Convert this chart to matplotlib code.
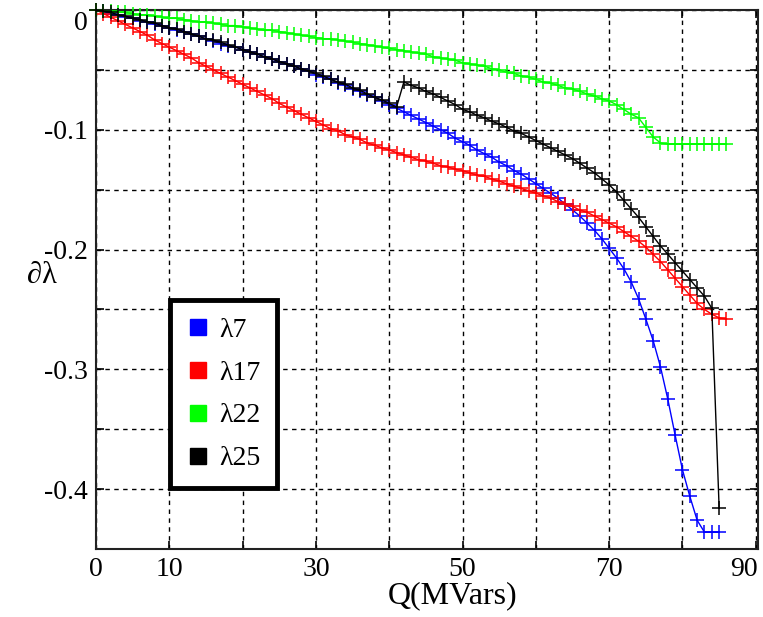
import matplotlib
matplotlib.use("Agg")
import matplotlib.pyplot as plt
from matplotlib.lines import Line2D
from matplotlib.transforms import ScaledTranslation

plt.rcParams['font.family'] = ['Liberation Serif', 'DejaVu Serif']

# Q (MVars) sample points
q_blue = [0, 1, 2, 3, 4, 5, 6, 7, 8, 9, 10, 11, 12, 13, 14, 15, 16, 17, 18, 19,
          20, 21, 22, 23, 24, 25, 26, 27, 28, 29, 30, 31, 32, 33, 34, 35, 36, 37, 38, 39,
          40, 41, 42, 43, 44, 45, 46, 47, 48, 49, 50, 51, 52, 53, 54, 55, 56, 57, 58, 59,
          60, 61, 62, 63, 64, 65, 66, 67, 68, 69, 70, 71, 72, 73, 74, 75, 76, 77, 78, 79,
          80, 81, 82, 83, 84, 85]
lam7 = [0, -0.001, -0.003, -0.004, -0.006, -0.007, -0.009, -0.010, -0.012, -0.013,
        -0.015, -0.017, -0.018, -0.020, -0.022, -0.024, -0.026, -0.028, -0.030, -0.031,
        -0.033, -0.035, -0.037, -0.039, -0.041, -0.043, -0.045, -0.047, -0.049, -0.051,
        -0.054, -0.056, -0.058, -0.061, -0.063, -0.066, -0.068, -0.071, -0.073, -0.076,
        -0.079, -0.082, -0.085, -0.088, -0.091, -0.094, -0.097, -0.100, -0.103, -0.107,
        -0.110, -0.113, -0.117, -0.120, -0.123, -0.127, -0.130, -0.134, -0.137, -0.141,
        -0.145, -0.149, -0.153, -0.157, -0.162, -0.167, -0.172, -0.178, -0.184, -0.191,
        -0.199, -0.207, -0.216, -0.227, -0.241, -0.258, -0.276, -0.298, -0.325, -0.355,
        -0.384, -0.406, -0.426, -0.436, -0.436, -0.436]

q_red = [0, 1, 2, 3, 4, 5, 6, 7, 8, 9, 10, 11, 12, 13, 14, 15, 16, 17, 18, 19,
         20, 21, 22, 23, 24, 25, 26, 27, 28, 29, 30, 31, 32, 33, 34, 35, 36, 37, 38, 39,
         40, 41, 42, 43, 44, 45, 46, 47, 48, 49, 50, 51, 52, 53, 54, 55, 56, 57, 58, 59,
         60, 61, 62, 63, 64, 65, 66, 67, 68, 69, 70, 71, 72, 73, 74, 75, 76, 77, 78, 79,
         80, 81, 82, 83, 84, 85, 86]
lam17 = [0, -0.003, -0.006, -0.009, -0.012, -0.015, -0.018, -0.021, -0.025, -0.028,
         -0.031, -0.034, -0.037, -0.040, -0.044, -0.047, -0.050, -0.053, -0.056, -0.059,
         -0.062, -0.065, -0.068, -0.071, -0.074, -0.078, -0.081, -0.084, -0.087, -0.090,
         -0.093, -0.096, -0.099, -0.101, -0.104, -0.106, -0.108, -0.111, -0.113, -0.115,
         -0.117, -0.119, -0.121, -0.123, -0.125, -0.126, -0.128, -0.130, -0.131, -0.133,
         -0.134, -0.136, -0.138, -0.139, -0.141, -0.143, -0.145, -0.147, -0.149, -0.151,
         -0.153, -0.155, -0.157, -0.160, -0.162, -0.164, -0.167, -0.169, -0.172, -0.175,
         -0.178, -0.181, -0.185, -0.189, -0.193, -0.198, -0.204, -0.210, -0.217, -0.224,
         -0.231, -0.238, -0.245, -0.250, -0.254, -0.257, -0.258]

q_green = [0, 1, 2, 3, 4, 5, 6, 7, 8, 9, 10, 11, 12, 13, 14, 15, 16, 17, 18, 19,
           20, 21, 22, 23, 24, 25, 26, 27, 28, 29, 30, 31, 32, 33, 34, 35, 36, 37, 38, 39,
           40, 41, 42, 43, 44, 45, 46, 47, 48, 49, 50, 51, 52, 53, 54, 55, 56, 57, 58, 59,
           60, 61, 62, 63, 64, 65, 66, 67, 68, 69, 70, 71, 72, 73, 74, 75, 76, 77, 78, 79,
           80, 81, 82, 83, 84, 85, 86]
lam22 = [0, -0.001, -0.001, -0.002, -0.002, -0.003, -0.004, -0.004, -0.005, -0.006,
         -0.007, -0.007, -0.008, -0.009, -0.010, -0.010, -0.011, -0.012, -0.013, -0.013,
         -0.014, -0.015, -0.016, -0.017, -0.017, -0.018, -0.019, -0.020, -0.021, -0.022,
         -0.023, -0.024, -0.024, -0.025, -0.026, -0.027, -0.028, -0.029, -0.030, -0.031,
         -0.032, -0.033, -0.034, -0.035, -0.036, -0.037, -0.039, -0.040, -0.041, -0.042,
         -0.044, -0.045, -0.046, -0.047, -0.049, -0.050, -0.052, -0.053, -0.055, -0.056,
         -0.058, -0.060, -0.061, -0.063, -0.065, -0.066, -0.068, -0.070, -0.072, -0.074,
         -0.076, -0.079, -0.083, -0.087, -0.090, -0.098, -0.106, -0.111, -0.112, -0.112,
         -0.112, -0.112, -0.112, -0.112, -0.112, -0.112, -0.112]

q_black = [0, 1, 2, 3, 4, 5, 6, 7, 8, 9, 10, 11, 12, 13, 14, 15, 16, 17, 18, 19,
           20, 21, 22, 23, 24, 25, 26, 27, 28, 29, 30, 31, 32, 33, 34, 35, 36, 37, 38, 39,
           40, 41, 42, 43, 44, 45, 46, 47, 48, 49, 50, 51, 52, 53, 54, 55, 56, 57, 58, 59,
           60, 61, 62, 63, 64, 65, 66, 67, 68, 69, 70, 71, 72, 73, 74, 75, 76, 77, 78, 79,
           80, 81, 82, 83, 84, 85]
lam25 = [0, -0.001, -0.002, -0.004, -0.005, -0.007, -0.008, -0.010, -0.011, -0.013,
         -0.015, -0.016, -0.018, -0.020, -0.022, -0.024, -0.025, -0.027, -0.029, -0.031,
         -0.033, -0.035, -0.037, -0.039, -0.041, -0.043, -0.045, -0.047, -0.049, -0.051,
         -0.053, -0.055, -0.058, -0.060, -0.062, -0.065, -0.067, -0.070, -0.073, -0.075,
         -0.078, -0.081, -0.060, -0.063, -0.065, -0.068, -0.070, -0.073, -0.076, -0.079,
         -0.083, -0.085, -0.088, -0.090, -0.093, -0.095, -0.098, -0.101, -0.103, -0.106,
         -0.109, -0.112, -0.115, -0.118, -0.121, -0.124, -0.128, -0.132, -0.136, -0.141,
         -0.146, -0.152, -0.159, -0.166, -0.173, -0.181, -0.189, -0.197, -0.204, -0.211,
         -0.218, -0.225, -0.232, -0.239, -0.249, -0.416]

series_labels = ['λ7', 'λ17', 'λ22', 'λ25']
series_colors = ['#0000ff', '#ff0000', '#00ff00', '#000000']

x_major = [0, 10, 30, 50, 70, 90]
x_minor = [20, 40, 60, 80]
y_major = [0, -0.1, -0.2, -0.3, -0.4]
y_minor = [-0.05, -0.15, -0.25, -0.35]
y_major_labels = ['0', '-0.1', '-0.2', '-0.3', '-0.4']

fig = plt.figure(figsize=(7.63, 6.17), dpi=100)
ax = fig.add_axes([96 / 763, 1 - 549 / 617, 662 / 763, 539 / 617])

grid_style = dict(color='black', linestyle=(0, (3.2, 3.2)), linewidth=1.0)
ax.set_axisbelow(True)

data = [(q_blue, lam7), (q_red, lam17), (q_green, lam22), (q_black, lam25)]
for (qq, yy), c in zip(data, series_colors):
    ax.plot(qq, yy, color=c, linewidth=1.0, marker='+', markersize=10,
            markeredgewidth=1.1, zorder=3, clip_on=False)

ax.set_xlim(0, 90.3)
ax.set_ylim(-0.45, 0)
ax.set_xticks(x_major)
ax.set_xticks(x_minor, minor=True)
ax.set_yticks(y_major)
ax.set_yticklabels(y_major_labels)
ax.set_yticks(y_minor, minor=True)
ax.grid(True, which='both', **grid_style)

ax.tick_params(which='both', direction='in', top=True, right=True, length=6,
               width=1.2, labelsize=20, pad=6)
for s in ax.spines.values():
    s.set_linewidth(1.5)
    s.set_color('#222222')

# edge labels are shifted inward as in the reference
fig.canvas.draw()
xlabels = ax.get_xticklabels()
xlabels[-1].set_transform(xlabels[-1].get_transform() +
                          ScaledTranslation(-12 / 100, 0, fig.dpi_scale_trans))
ylabels = ax.get_yticklabels()
ylabels[0].set_transform(ylabels[0].get_transform() +
                         ScaledTranslation(0, -11 / 100, fig.dpi_scale_trans))

ax.set_xlabel('Q(MVars)', fontsize=23)
ax.xaxis.set_label_coords(0.538, -0.06)
ax.set_ylabel('∂λ', fontsize=22, rotation=0, ha='center', va='center')
ax.yaxis.set_label_coords(-0.082, 0.507)

handles = [Line2D([], [], linestyle='none', marker='s', markersize=12,
                  markerfacecolor=c, markeredgecolor=c) for c in series_colors]
leg = ax.legend(handles, series_labels, loc='lower left',
                bbox_to_anchor=(0.112, 0.113), fontsize=20, frameon=True,
                fancybox=False, framealpha=1, edgecolor='black',
                handlelength=0.8, handletextpad=0.35, labelspacing=0.63,
                borderpad=0.6, borderaxespad=0)
leg.get_frame().set_linewidth(3.5)
leg.set_zorder(5)

fig.savefig('out.png', dpi=100)
